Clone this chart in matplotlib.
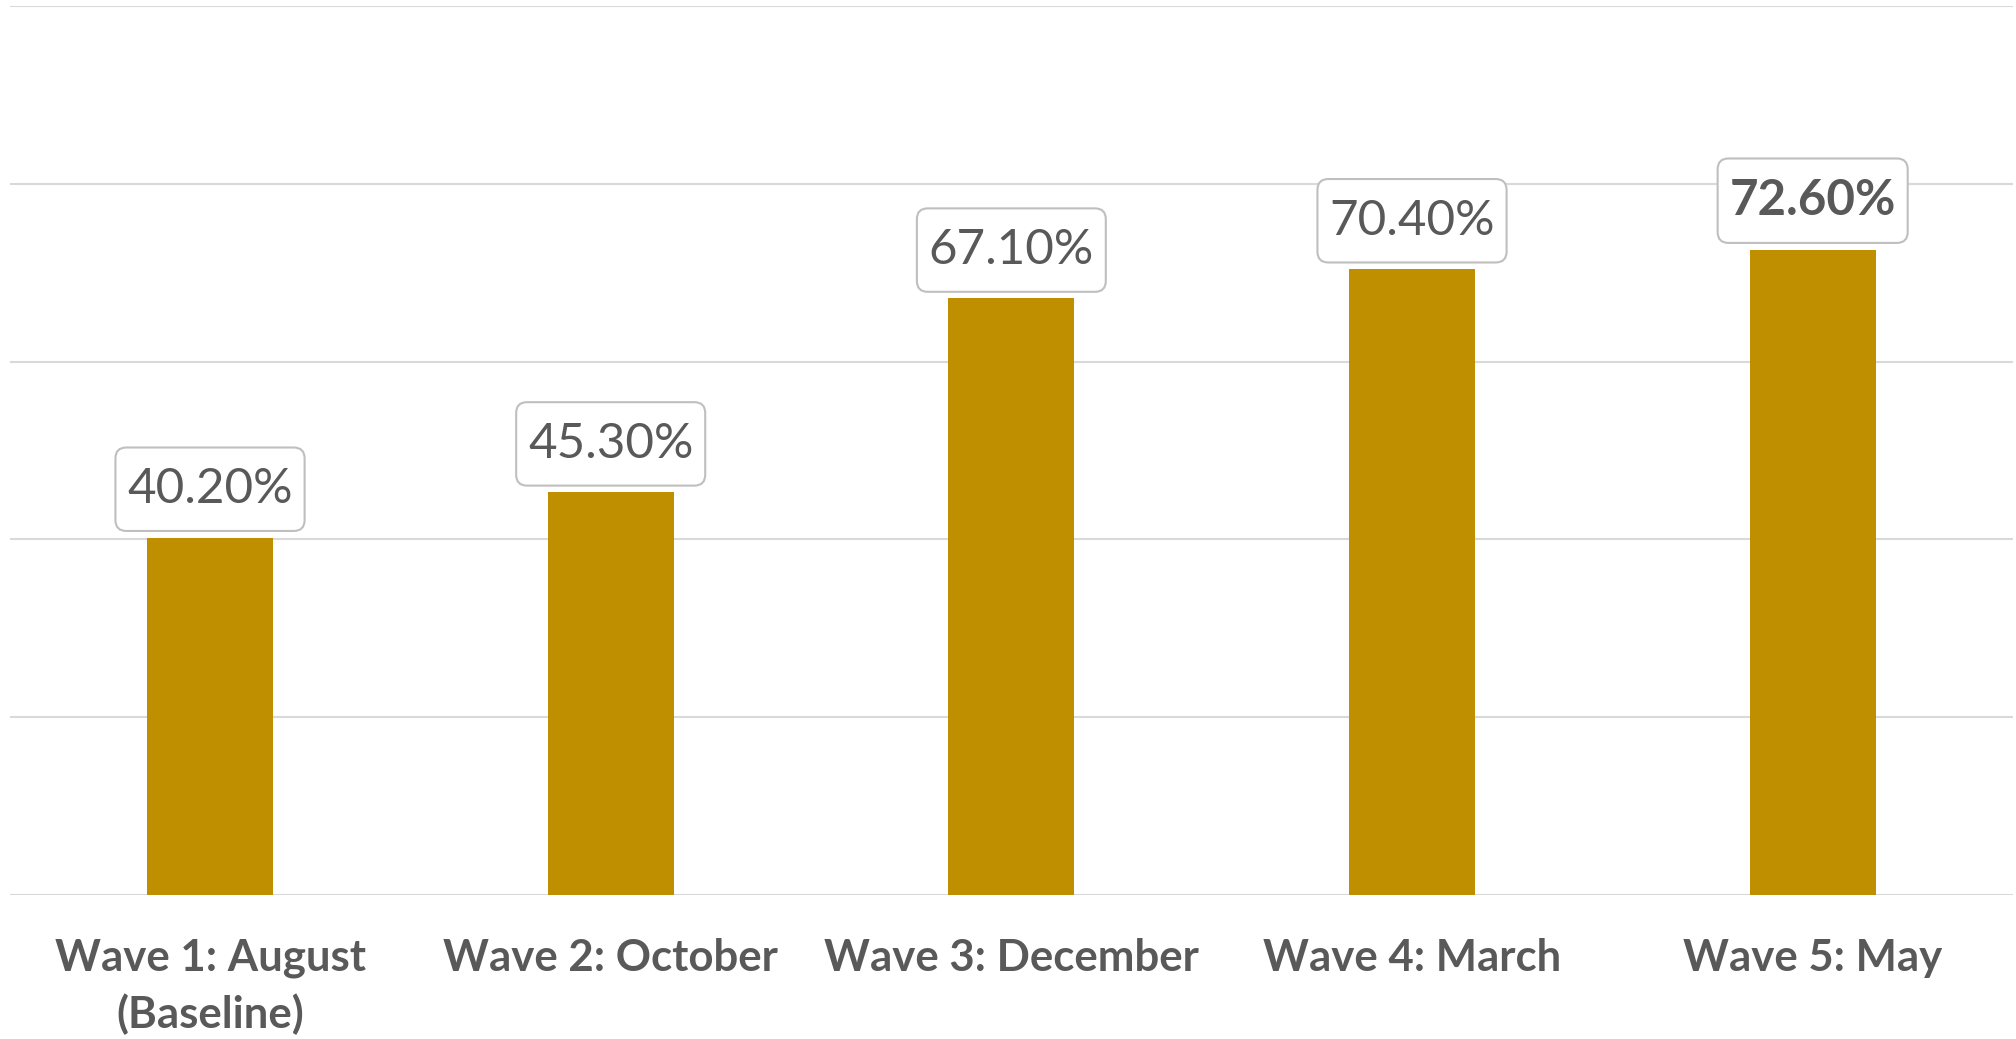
import matplotlib.pyplot as plt
from matplotlib.patches import BoxStyle

categories = ["Wave 1: August\n(Baseline)", "Wave 2: October", "Wave 3: December",
              "Wave 4: March", "Wave 5: May"]
values = [40.2, 45.3, 67.1, 70.4, 72.6]
bar_color = "#BF8F00"
text_color = "#595959"

plt.rcParams['font.family'] = ['Lato', 'DejaVu Sans']


def label_box(x0, y0, width, height, mutation_size):
    # rounded box with more room above and below the text than at the sides
    px, py = 0.24 * mutation_size, 0.40 * mutation_size
    return BoxStyle.Round(pad=0, rounding_size=0.22)(x0 - px, y0 - py, width + 2 * px,
                                                     height + 2 * py, mutation_size)


fig = plt.figure(figsize=(20.16, 10.39), dpi=100)
ax = fig.add_axes([9.7 / 2016, (1039 - 895) / 1039, (2013 - 9.7) / 2016, (895 - 6) / 1039])

x = list(range(len(categories)))
ax.bar(x, values, width=0.315, color=bar_color, zorder=2)

ax.set_xlim(-0.5, len(categories) - 0.5)
ax.set_ylim(0, 100)
ax.set_yticks([0, 20, 40, 60, 80, 100])
ax.yaxis.grid(True, color="#D9D9D9", linewidth=1.5, zorder=0)
ax.set_axisbelow(True)
ax.tick_params(axis='y', left=False, labelleft=False)
ax.tick_params(axis='x', length=0, pad=31)
ax.set_xticks(x)
ax.set_xticklabels(categories, fontsize=31.5, fontweight='bold', color=text_color, linespacing=1.45)
for s in ax.spines.values():
    s.set_visible(False)

# data labels in rounded boxes, the last one bold
for i, v in enumerate(values):
    ax.annotate(f"{v:.2f}%", xy=(i, v), xytext=(0, 19), textcoords='offset points',
                ha='center', va='bottom', fontsize=35.5, color=text_color,
                fontweight='bold' if i == len(values) - 1 else 'normal',
                bbox=dict(boxstyle=label_box, fc='white', ec='#BFBFBF', lw=1.5),
                zorder=3)

fig.savefig("out.png", dpi=100)
